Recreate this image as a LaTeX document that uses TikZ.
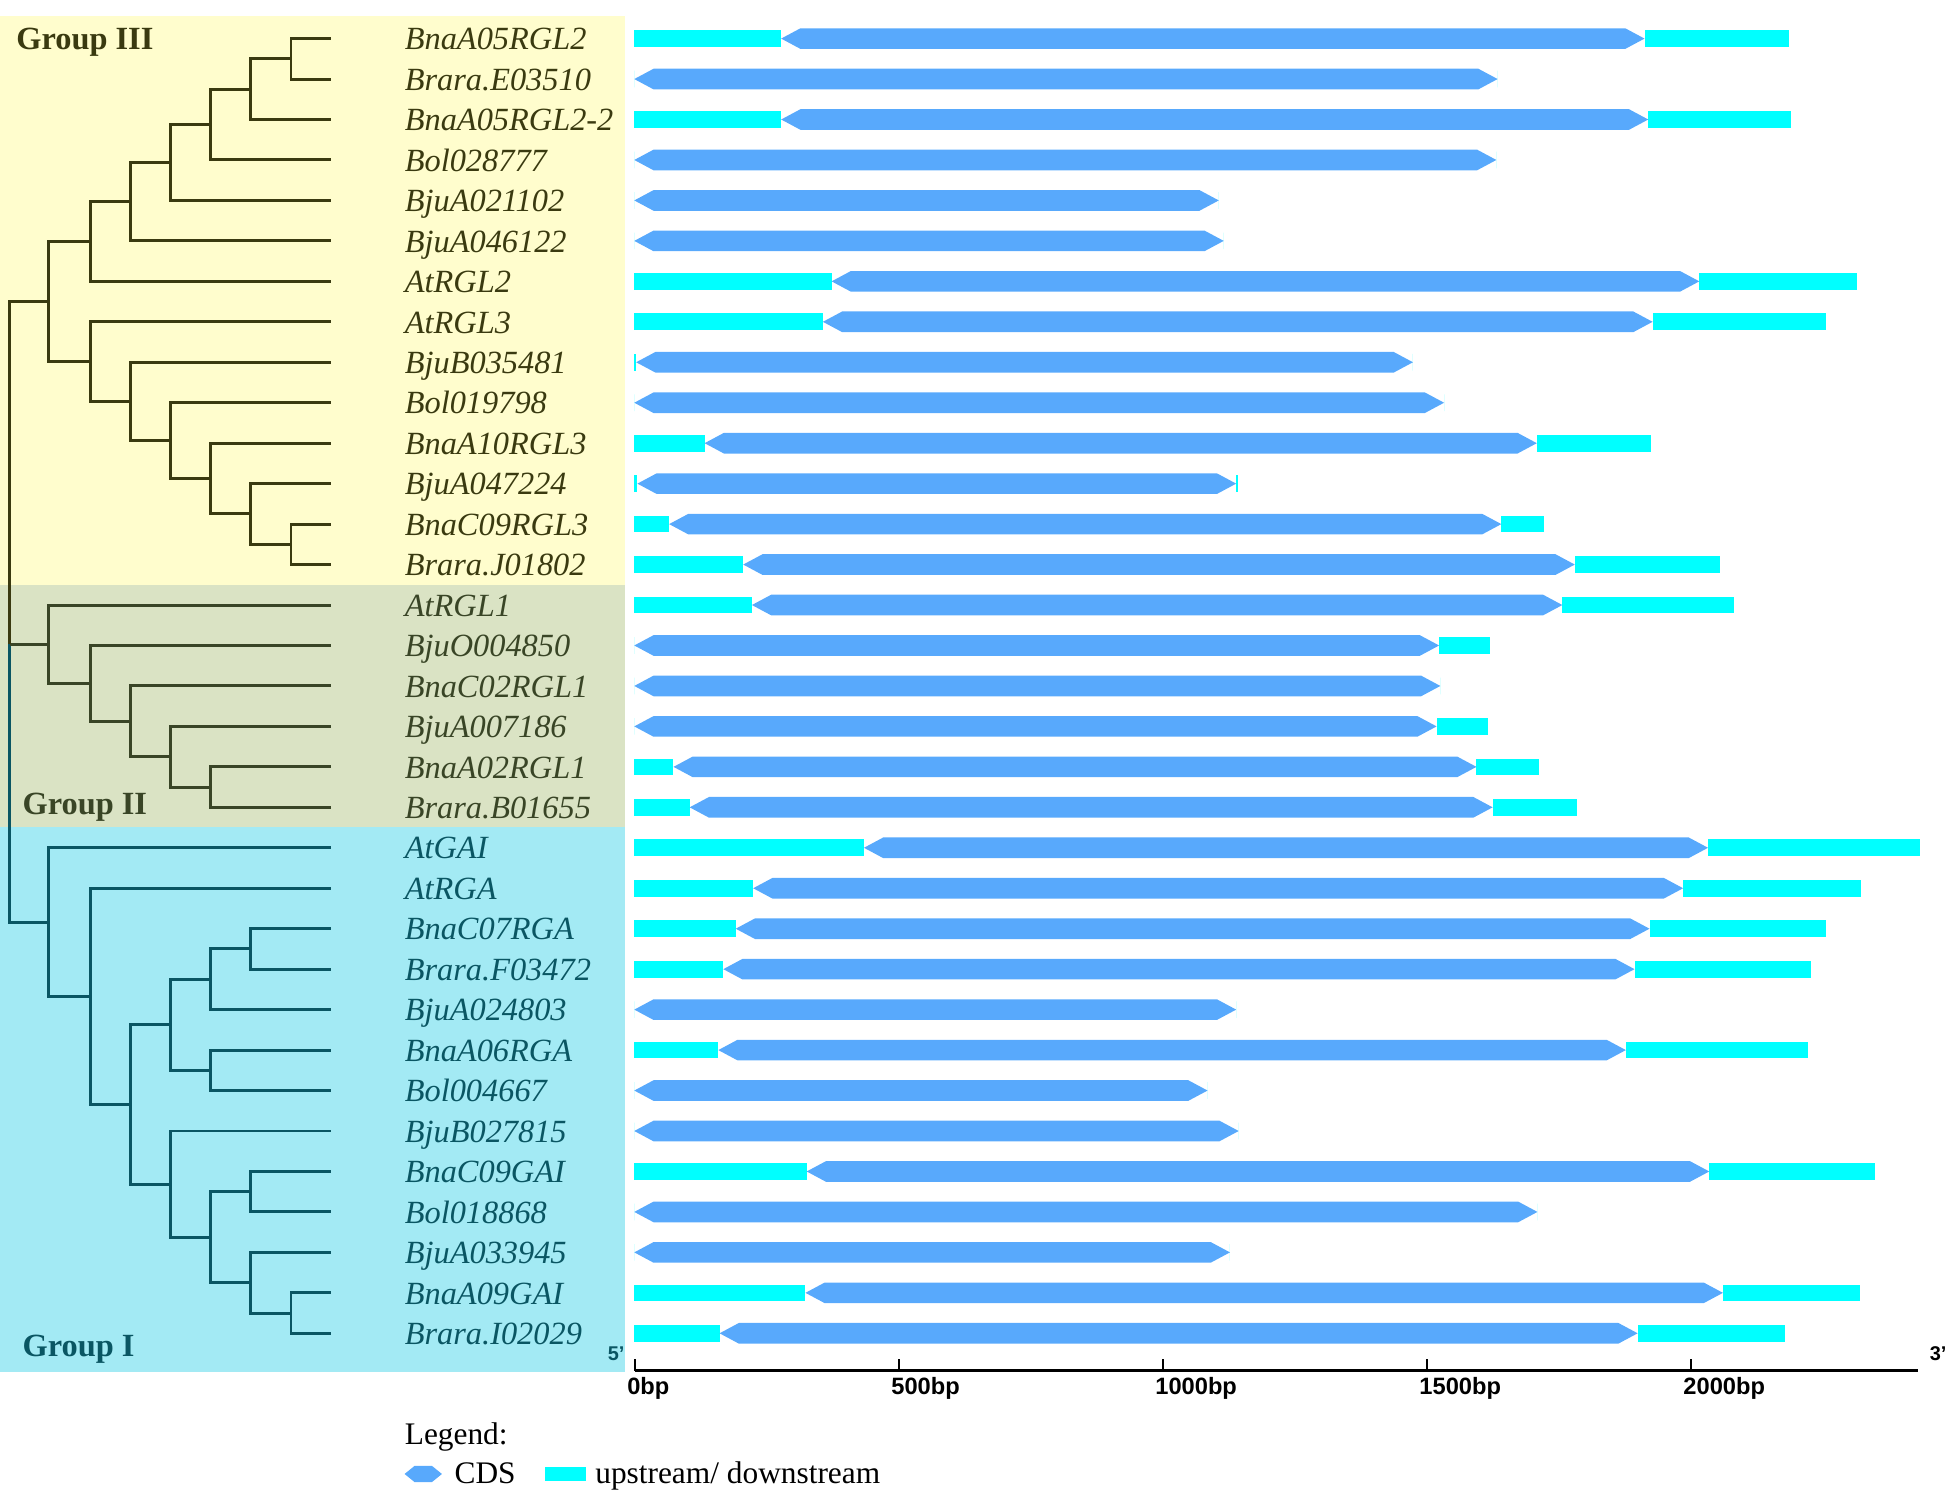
\documentclass[tikz,border=0pt]{standalone}
\usepackage{fontspec}
\setmainfont{Liberation Serif}
\setsansfont{Liberation Sans}

\definecolor{bgthree}{HTML}{FFFDCD}
\definecolor{bgtwo}{HTML}{DAE3C4}
\definecolor{bgone}{HTML}{A3EAF4}
\definecolor{inkthree}{HTML}{3A3A10}
\definecolor{inktwo}{HTML}{394526}
\definecolor{inkone}{HTML}{0A5663}
\definecolor{cdsblue}{HTML}{58A9FC}
\definecolor{utrcyan}{HTML}{00FFFF}

% row centre (rows counted from the top)
\newcommand{\ry}[1]{31+32.5*(#1-1)}

\tikzset{
  branch/.style={line width=2.4pt, line join=miter},
  genename/.style={anchor=base west, inner sep=0pt, font=\fontsize{26}{30}\selectfont\itshape},
  grouplab/.style={anchor=base west, inner sep=0pt, font=\fontsize{26}{30}\selectfont\bfseries},
  ticklab/.style={anchor=base west, inner sep=0pt, font=\sffamily\bfseries\fontsize{19}{22}\selectfont},
  endlab/.style={anchor=base west, inner sep=0pt, font=\sffamily\bfseries\fontsize{16}{18}\selectfont},
  legendtext/.style={anchor=base west, inner sep=0pt, font=\fontsize{25.2}{29}\selectfont},
}

\begin{document}
\begin{tikzpicture}[x=1pt, y=-1pt]
    \useasboundingbox (0,0) rectangle (1568,1199);

    % 1. Group backgrounds
    \fill[bgthree] (0,13) rectangle (502,470);   % Group III
    \fill[bgtwo]   (0,470) rectangle (502,664);  % Group II
    \fill[bgone]   (0,664) rectangle (502,1102); % Group I

    % 2. Tips and inner nodes of the tree
    \foreach \i in {1,...,33}
        \coordinate (t\i) at (266,{\ry{\i}});

    % Group III, upper clade
    \coordinate (a7) at (233.75,{\ry{1.5}});
    \coordinate (a6) at (201.5,{\ry{2.25}});
    \coordinate (a5) at (169.25,{\ry{3.125}});
    \coordinate (a4) at (137,{\ry{4.0625}});
    \coordinate (a3) at (104.75,{\ry{5.03125}});
    \coordinate (a2) at (72.5,{\ry{6.015625}});
    % Group III, lower clade
    \coordinate (b7) at (233.75,{\ry{13.5}});
    \coordinate (b6) at (201.5,{\ry{12.75}});
    \coordinate (b5) at (169.25,{\ry{11.875}});
    \coordinate (b4) at (137,{\ry{10.9375}});
    \coordinate (b3) at (104.75,{\ry{9.96875}});
    \coordinate (b2) at (72.5,{\ry{8.984375}});
    \coordinate (n3) at (39,{\ry{7.5}});
    % Group II
    \coordinate (c5) at (169.25,{\ry{19.5}});
    \coordinate (c4) at (137,{\ry{18.75}});
    \coordinate (c3) at (104.75,{\ry{17.875}});
    \coordinate (c2) at (72.5,{\ry{16.9375}});
    \coordinate (n2) at (39,{\ry{15.96875}});
    % Group I
    \coordinate (d6) at (201.5,{\ry{23.5}});
    \coordinate (d5) at (169.25,{\ry{24.25}});
    \coordinate (e5) at (169.25,{\ry{26.5}});
    \coordinate (d4) at (137,{\ry{25.375}});
    \coordinate (f6) at (201.5,{\ry{29.5}});
    \coordinate (h7) at (233.75,{\ry{32.5}});
    \coordinate (h6) at (201.5,{\ry{31.75}});
    \coordinate (f5) at (169.25,{\ry{30.625}});
    \coordinate (f4) at (137,{\ry{29.3125}});
    \coordinate (d3) at (104.75,{\ry{27.34375}});
    \coordinate (d2) at (72.5,{\ry{24.671875}});
    \coordinate (n1) at (39,{\ry{22.8359375}});
    % Root
    \coordinate (root) at (8,{\ry{15.96875}});

    % 3. Draw the branches
    \begin{scope}[branch, inkone]
        \foreach \p/\c in {d6/t23, d6/t24, d5/d6, d5/t25, e5/t26, e5/t27, d4/d5, d4/e5,
                           f6/t29, f6/t30, h7/t32, h7/t33, h6/t31, h6/h7, f5/f6, f5/h6,
                           f4/t28, f4/f5, d3/d4, d3/f4, d2/t22, d2/d3, n1/t21, n1/d2, root/n1}
            \draw (\p) |- (\c);
    \end{scope}
    \begin{scope}[branch, inktwo]
        \foreach \p/\c in {c5/t19, c5/t20, c4/t18, c4/c5, c3/t17, c3/c4,
                           c2/t16, c2/c3, n2/t15, n2/c2, root/n2}
            \draw (\p) |- (\c);
    \end{scope}
    \begin{scope}[branch, inkthree]
        \foreach \p/\c in {a7/t1, a7/t2, a6/a7, a6/t3, a5/a6, a5/t4, a4/a5, a4/t5,
                           a3/a4, a3/t6, a2/a3, a2/t7,
                           b7/t13, b7/t14, b6/t12, b6/b7, b5/t11, b5/b6, b4/t10, b4/b5,
                           b3/t9, b3/b4, b2/t8, b2/b3, n3/a2, n3/b2, root/n3}
            \draw (\p) |- (\c);
    \end{scope}

    % 4. Gene names and group labels
    \foreach \i/\name in {1/BnaA05RGL2, 2/Brara.E03510, 3/BnaA05RGL2-2, 4/Bol028777,
                          5/BjuA021102, 6/BjuA046122, 7/AtRGL2, 8/AtRGL3, 9/BjuB035481,
                          10/Bol019798, 11/BnaA10RGL3, 12/BjuA047224, 13/BnaC09RGL3,
                          14/Brara.J01802}
        \node[genename, inkthree] (g\i) at (325,{\ry{\i}+9}) {\name};
    \foreach \i/\name in {15/AtRGL1, 16/BjuO004850, 17/BnaC02RGL1, 18/BjuA007186,
                          19/BnaA02RGL1, 20/Brara.B01655}
        \node[genename, inktwo] (g\i) at (325,{\ry{\i}+9}) {\name};
    \foreach \i/\name in {21/AtGAI, 22/AtRGA, 23/BnaC07RGA, 24/Brara.F03472,
                          25/BjuA024803, 26/BnaA06RGA, 27/Bol004667, 28/BjuB027815,
                          29/BnaC09GAI, 30/Bol018868, 31/BjuA033945, 32/BnaA09GAI,
                          33/Brara.I02029}
        \node[genename, inkone] (g\i) at (325,{\ry{\i}+9}) {\name};

    \node[grouplab, inkthree] (grpIII) at (13,40) {Group III};
    \node[grouplab, inktwo]   (grpII)  at (18,654) {Group II};
    \node[grouplab, inkone]   (grpI)   at (18,1090) {Group I};

    % 5. Gene structures: row / CDS start / CDS end / downstream end
    \foreach \r/\b/\c/\d in {1/627.5/1321/1437, 2/509.5/1203/1203, 3/627.5/1324/1439,
                             4/509.5/1202/1202, 5/509.5/979/979, 6/509.5/983/983,
                             7/668/1365/1492, 8/661/1327.5/1467, 9/511/1135/1135,
                             10/509.5/1160/1160, 11/566/1234.5/1326, 12/512/993/994.5,
                             13/537.5/1206/1240, 14/597/1265/1382, 15/604/1255/1393,
                             16/509.5/1156/1197, 17/509.5/1157/1157, 18/509.5/1154/1195,
                             19/541/1186/1236, 20/554/1199/1267, 21/694/1372/1542,
                             22/605/1352/1495, 23/591/1325/1467, 24/581/1313/1455,
                             25/509.5/993/993, 26/577/1306/1452, 27/509.5/970/970,
                             28/509.5/995/995, 29/648/1373/1506, 30/509.5/1235/1235,
                             31/509.5/988/988, 32/647/1384/1494, 33/578/1315.5/1434}
    {
        \pgfmathsetmacro{\y}{\ry{\r}}
        \fill[utrcyan] (509.5,{\y-6.7}) rectangle (\b,{\y+6.7});
        \fill[utrcyan] (\c,{\y-6.7}) rectangle (\d,{\y+6.7});
        \fill[cdsblue] (\b,\y) -- ({\b+15.5},{\y-8.3}) -- ({\c-15.5},{\y-8.3})
            -- (\c,\y) -- ({\c-15.5},{\y+8.3}) -- ({\b+15.5},{\y+8.3}) -- cycle;
    }

    % 6. Scale bar
    \coordinate (ax0) at (510.2,1101);
    \coordinate (axend) at (1541,1101);
    \draw[line width=2.4pt] (ax0) -- (axend);
    \foreach \k/\lab in {0/0bp, 1/500bp, 2/1000bp, 3/1500bp, 4/2000bp}
    {
        \draw[line width=1.6pt] ({510.2+212.1*\k},1092) -- ++(0,9);
        \node[ticklab] (tk\k) at ({510.2+212.1*\k-6.5},1120) {\lab};
    }
    \node[endlab, inkone] (five) at (488,1093) {5'};
    \node[endlab] (three) at (1550,1093) {3'};

    % 7. Legend
    \node[legendtext] (leg) at (325,1160) {Legend:};
    \fill[cdsblue] (325,1184) -- (333,1177.5) -- (347,1177.5) -- (355,1184)
        -- (347,1190.5) -- (333,1190.5) -- cycle;
    \node[legendtext] (legcds) at (365,1192) {CDS};
    \fill[utrcyan] (438,1178) rectangle (471,1190);
    \node[legendtext] (legutr) at (478,1192) {upstream/ downstream};
\end{tikzpicture}
\end{document}
